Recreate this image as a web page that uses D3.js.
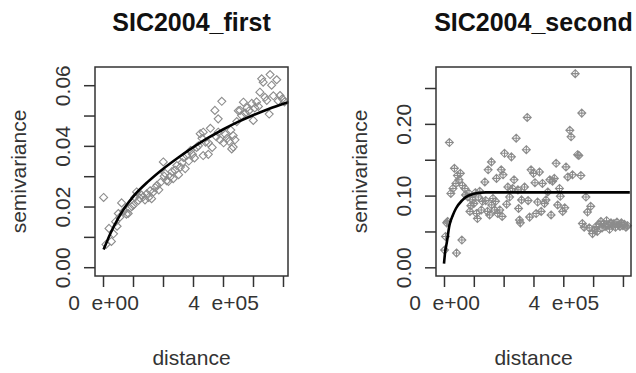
<!DOCTYPE html>
<html>
<head>
<meta charset="utf-8">
<script src="https://cdn.jsdelivr.net/npm/d3@7"></script>
<style>
  body { margin: 0; background: #fff; }
  text { font-family: "Liberation Sans", Arial, sans-serif; }
</style>
</head>
<body>
<div id="chart"></div>
<script>
var w = 636
var h = 373

// distances are in units of 1e5
var firstDist = [0.02,0.10,0.20,0.28,0.35,0.42,0.47,0.51,0.56,0.62,0.70,0.78,0.84,0.90,0.96,1.01,1.06,1.12,1.18,1.23,
  1.28,1.34,1.40,1.46,1.52,1.57,1.62,1.68,1.74,1.80,1.86,1.92,2.01,2.04,2.07,2.12,2.18,2.24,2.30,2.34,
  2.40,2.46,2.52,2.58,2.64,2.68,2.74,2.79,2.86,2.92,2.98,3.05,3.12,3.18,3.24,3.30,3.34,3.34,3.42,3.51,
  3.51,3.58,3.64,3.73,3.78,3.84,3.84,3.90,3.96,4.02,4.08,4.14,4.20,4.26,4.29,4.34,4.34,4.40,4.46,4.51,
  4.57,4.62,4.68,4.74,4.80,4.86,4.96,5.01,5.06,5.12,5.18,5.23,5.29,5.34,5.40,5.46,5.54,5.57,5.62,5.68,
  5.79,5.84,5.90,5.98,6.05];
var firstGamma = [0.0230,0.0075,0.0128,0.0085,0.0110,0.0150,0.0135,0.0177,0.0165,0.0212,0.0185,0.0175,0.0177,0.0195,0.0200,0.0204,0.0230,0.0248,0.0220,0.0228,
  0.0238,0.0232,0.0222,0.0242,0.0230,0.0252,0.0226,0.0248,0.0262,0.0270,0.0255,0.0280,0.0347,0.0300,0.0309,0.0285,0.0283,0.0298,0.0315,0.0292,
  0.0320,0.0335,0.0305,0.0330,0.0345,0.0362,0.0325,0.0368,0.0350,0.0385,0.0372,0.0360,0.0395,0.0400,0.0440,0.0425,0.0445,0.0368,0.0412,0.0410,
  0.0372,0.0458,0.0395,0.0517,0.0430,0.0489,0.0445,0.0420,0.0547,0.0410,0.0438,0.0425,0.0415,0.0452,0.0390,0.0434,0.0396,0.0420,0.0480,0.0516,
  0.0517,0.0500,0.0544,0.0508,0.0525,0.0515,0.0540,0.0484,0.0525,0.0545,0.0530,0.0577,0.0621,0.0610,0.0560,0.0550,0.0505,0.0635,0.0600,0.0565,
  0.0618,0.0548,0.0566,0.0555,0.0545];
var firstFitDist  = [0.02,0.25,0.5,0.75,1.0,1.5,2.0,2.5,3.0,3.5,4.0,4.5,5.0,5.5,6.17];
var firstFitGamma = [0.0058,0.0112,0.0160,0.0200,0.0232,0.0282,0.0324,0.0361,0.0395,0.0426,0.0454,0.0479,0.0501,0.0521,0.0544];

var secondDist = [0.02,0.05,0.09,0.12,0.18,0.23,0.30,0.35,0.40,0.42,0.45,0.50,0.55,0.60,0.62,0.70,0.72,0.80,0.84,0.87,
  0.90,0.96,1.00,1.05,1.09,1.12,1.15,1.20,1.25,1.29,1.37,1.40,1.46,1.48,1.53,1.59,1.60,1.64,1.70,1.73,
  1.76,1.80,1.87,1.92,1.95,1.98,2.03,2.10,2.14,2.20,2.26,2.30,2.35,2.42,2.48,2.50,2.53,2.56,2.60,2.70,
  2.76,2.79,2.82,2.87,2.92,3.00,3.05,3.09,3.14,3.20,3.26,3.30,3.37,3.42,3.48,3.55,3.59,3.64,3.70,3.76,
  3.81,3.87,3.90,3.98,4.05,4.09,4.15,4.22,4.26,4.31,4.40,4.48,4.52,4.59,4.62,4.64,4.70,4.76,4.81,4.87,
  4.92,4.98,5.05,5.10,5.14,5.20,5.26,5.30,5.35,5.40,5.45,5.50,5.55,5.60,5.65,5.70,5.75,5.80,5.85,5.90,
  5.95,6.00,6.05,6.10,6.15];
var secondGamma = [0.024,0.043,0.062,0.064,0.174,0.103,0.110,0.138,0.117,0.020,0.128,0.122,0.131,0.038,0.114,0.110,0.101,0.098,0.103,0.078,
  0.086,0.094,0.089,0.104,0.075,0.068,0.098,0.106,0.080,0.092,0.119,0.093,0.078,0.136,0.073,0.147,0.087,0.096,0.080,0.092,
  0.124,0.075,0.080,0.136,0.071,0.129,0.159,0.088,0.112,0.098,0.154,0.110,0.122,0.180,0.108,0.082,0.066,0.062,0.094,0.112,
  0.164,0.209,0.093,0.070,0.136,0.131,0.118,0.075,0.091,0.133,0.078,0.117,0.089,0.094,0.105,0.122,0.073,0.120,0.124,0.145,
  0.087,0.110,0.099,0.078,0.083,0.140,0.126,0.191,0.182,0.129,0.270,0.157,0.156,0.128,0.215,0.061,0.056,0.098,0.077,0.055,
  0.085,0.047,0.052,0.057,0.050,0.060,0.064,0.055,0.061,0.057,0.065,0.059,0.053,0.062,0.058,0.061,0.056,0.063,0.059,0.057,
  0.062,0.058,0.060,0.056,0.058];
var secondFitDist  = [0.0,0.04,0.09,0.18,0.30,0.40,0.60,0.80,1.00,1.20,1.40,6.23];
var secondFitGamma = [0.005,0.022,0.0335,0.058,0.073,0.082,0.093,0.0995,0.1025,0.104,0.1045,0.1045];

var xTicks = [0,1,2,3,4,5,6];
var xTickLabels = { 0: "0  e+00", 4: "4  e+05" };
var firstYTicks = [0,0.01,0.02,0.03,0.04,0.05,0.06];
var firstYLabels = [0,0.02,0.04,0.06];
var secondYTicks = [0,0.05,0.10,0.15,0.20,0.25];
var secondYLabels = [0,0.10,0.20];

var svg = d3.select("#chart").append("svg")
    .attr("width", w)
    .attr("height", h);

function panel(opt) {
  var left = opt.left, right = opt.right, top = 67, bottom = 276;
  var x = d3.scaleLinear().domain(opt.xDomain).range([left, right]);
  var y = d3.scaleLinear().domain(opt.yDomain).range([bottom, top]);
  var g = svg.append("g");
  var cx = (left + right) / 2;

  g.append("text")
    .attr("x", cx).attr("y", 31)
    .attr("text-anchor", "middle")
    .style("font-size", "25px").style("font-weight", "bold").style("fill", "#111")
    .text(opt.title);

  // points
  g.selectAll("path.pt").data(opt.dist).enter()
    .append("path")
      .attr("class", "pt")
      .attr("transform", function(d, i) { return "translate(" + x(d) + "," + y(opt.gamma[i]) + ")"; })
      .attr("d", opt.marker)
      .attr("fill", "none")
      .attr("stroke", "#8c8c8c")
      .attr("stroke-width", 1.1);

  // fitted model
  var line = d3.line()
    .x(function(d) { return x(d); })
    .y(function(d, i) { return y(opt.fitGamma[i]); })
    .curve(d3.curveMonotoneX);
  g.append("path")
    .attr("d", line(opt.fitDist))
    .attr("fill", "none")
    .attr("stroke", "#000")
    .attr("stroke-width", 2.6);

  // box
  g.append("rect")
    .attr("x", left).attr("y", top)
    .attr("width", right - left).attr("height", bottom - top)
    .attr("fill", "none").attr("stroke", "#333").attr("stroke-width", 1.5);

  // x axis
  var xa = g.append("g").attr("transform", "translate(0," + bottom + ")")
    .call(d3.axisBottom(x).tickValues(xTicks).tickSize(11).tickFormat(function(d) { return xTickLabels[d] || ""; }));
  xa.select(".domain").remove();
  xa.selectAll("line").attr("stroke", "#333").attr("stroke-width", 1.5);
  xa.selectAll("text")
    .attr("y", 34).attr("dy", 0)
    .attr("xml:space", "preserve")
    .style("white-space", "pre")
    .style("font-size", "21px").style("fill", "#333");

  // y axis
  var ya = g.append("g").attr("transform", "translate(" + left + ",0)")
    .call(d3.axisLeft(y).tickValues(opt.yTicks).tickSize(11).tickFormat(function(d) {
      return opt.yLabels.some(function(v) { return Math.abs(v - d) < 1e-9; }) ? d3.format(".2f")(d) : "";
    }));
  ya.select(".domain").remove();
  ya.selectAll("line").attr("stroke", "#333").attr("stroke-width", 1.5);
  ya.selectAll("text")
    .attr("x", 0).attr("dy", 0)
    .attr("transform", "translate(-25,0) rotate(-90)")
    .attr("text-anchor", "middle")
    .style("font-size", "21px").style("fill", "#333");

  g.append("text")
    .attr("transform", "translate(" + (left - 69) + "," + ((top + bottom) / 2) + ") rotate(-90)")
    .attr("text-anchor", "middle")
    .style("font-size", "21px").style("fill", "#333")
    .text("semivariance");

  g.append("text")
    .attr("x", cx).attr("y", 365)
    .attr("text-anchor", "middle")
    .style("font-size", "21px").style("fill", "#333")
    .text("distance");
}

var r = 4;
var diamond = "M0," + (-r) + "L" + r + ",0L0," + r + "L" + (-r) + ",0Z";
var diamondPlus = diamond + "M" + (-r) + ",0L" + r + ",0M0," + (-r) + "L0," + r;

panel({ left: 95, right: 288, title: "SIC2004_first",
        xDomain: [-0.267, 6.167], yDomain: [-0.0029, 0.066],
        dist: firstDist, gamma: firstGamma, fitDist: firstFitDist, fitGamma: firstFitGamma,
        yTicks: firstYTicks, yLabels: firstYLabels, marker: diamond });

panel({ left: 436, right: 631, title: "SIC2004_second",
        xDomain: [-0.268, 6.27], yDomain: [-0.0121, 0.2793],
        dist: secondDist, gamma: secondGamma, fitDist: secondFitDist, fitGamma: secondFitGamma,
        yTicks: secondYTicks, yLabels: secondYLabels, marker: diamondPlus });
</script>
</body>
</html>
